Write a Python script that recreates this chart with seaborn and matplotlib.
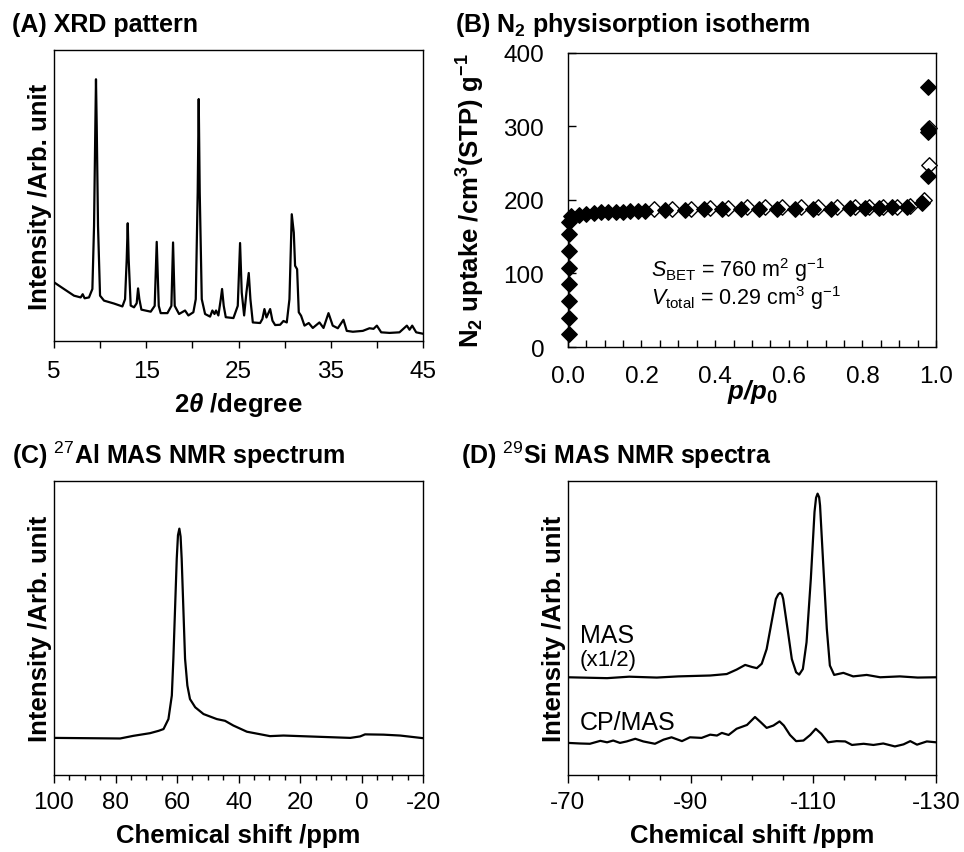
import matplotlib
matplotlib.use("Agg")
import matplotlib.pyplot as plt
from matplotlib.ticker import MultipleLocator, FixedLocator, FormatStrFormatter
import seaborn as sns

# (A) XRD pattern (intensity as fraction of axis height)
xrd_2theta = [5.00, 6.08, 7.17, 7.89, 8.11, 8.32, 8.79, 9.16, 9.34, 9.48, 9.55, 9.63, 9.77, 9.99,
              10.42, 11.50, 12.41, 12.70, 12.88, 12.99, 13.09, 13.31, 13.67, 13.96, 14.11, 14.25,
              14.47, 15.48, 15.91, 16.13, 16.35, 16.56, 17.29, 17.72, 17.90, 18.08, 18.55, 19.20,
              19.56, 20.10, 20.36, 20.57, 20.68, 20.79, 21.01, 21.37, 21.91, 22.16, 22.39, 22.56,
              22.81, 23.07, 23.21, 23.39, 23.61, 24.44, 24.91, 25.16, 25.34, 25.60, 25.85, 26.10,
              26.28, 26.54, 27.33, 27.58, 27.80, 28.02, 28.42, 28.67, 28.96, 29.50, 29.86, 30.22,
              30.51, 30.76, 30.98, 31.12, 31.34, 31.52, 31.77, 32.14, 32.60, 33.04, 33.76, 34.20,
              34.74, 35.20, 35.75, 36.36, 36.72, 37.38, 38.46, 39.18, 39.62, 39.98, 40.45, 41.35,
              42.43, 43.23, 43.52, 43.81, 44.24, 45.00]
xrd_intensity = [0.202, 0.179, 0.156, 0.150, 0.161, 0.147, 0.150, 0.179, 0.396, 0.740, 0.900, 0.740,
                 0.396, 0.156, 0.139, 0.129, 0.119, 0.144, 0.282, 0.405, 0.282, 0.122, 0.116, 0.130,
                 0.181, 0.144, 0.108, 0.101, 0.121, 0.341, 0.121, 0.096, 0.096, 0.121, 0.339, 0.121,
                 0.093, 0.105, 0.088, 0.099, 0.144, 0.511, 0.832, 0.511, 0.144, 0.093, 0.084, 0.105,
                 0.093, 0.105, 0.088, 0.144, 0.179, 0.121, 0.082, 0.079, 0.121, 0.337, 0.167, 0.088,
                 0.167, 0.234, 0.144, 0.064, 0.062, 0.076, 0.110, 0.081, 0.110, 0.070, 0.055, 0.056,
                 0.069, 0.064, 0.144, 0.436, 0.373, 0.259, 0.247, 0.099, 0.087, 0.053, 0.062, 0.045,
                 0.064, 0.045, 0.096, 0.053, 0.044, 0.073, 0.035, 0.032, 0.035, 0.044, 0.042, 0.053,
                 0.030, 0.028, 0.030, 0.053, 0.039, 0.053, 0.030, 0.025]

# (B) N2 isotherm, adsorption (filled) and desorption (open)
ads_p = [0.002, 0.002, 0.002, 0.002, 0.002, 0.002, 0.003, 0.004, 0.010, 0.030, 0.050, 0.070,
         0.090, 0.110, 0.130, 0.150, 0.170, 0.190, 0.210, 0.265, 0.318, 0.370, 0.420, 0.471,
         0.520, 0.568, 0.617, 0.665, 0.716, 0.765, 0.808, 0.845, 0.880, 0.920, 0.961, 0.979,
         0.979, 0.979, 0.979]
ads_v = [18, 40, 62, 85, 108, 131, 154, 170, 178, 180, 181, 182, 183, 183, 184, 184, 185, 185,
         185, 186, 186, 187, 187, 187, 188, 188, 188, 188, 188, 189, 189, 189, 190, 191, 196,
         233, 292, 296, 353]
des_p = [0.982, 0.982, 0.966, 0.930, 0.893, 0.855, 0.818, 0.780, 0.732, 0.680, 0.632, 0.583,
         0.535, 0.487, 0.436, 0.386, 0.334, 0.284, 0.233]
des_v = [298, 248, 200, 192, 191, 191, 191, 190, 190, 190, 190, 190, 190, 190, 189, 189, 188,
         188, 187]

# (C) 27Al MAS NMR
al_ppm = [100, 78.5, 74.2, 68.8, 66.0, 64.4, 62.8, 61.7, 61.2, 60.65, 60.1, 59.7, 59.25, 58.85,
          58.5, 57.95, 57.4, 56.65, 55.8, 54.1, 51.4, 47.1, 44.4, 41.7, 37.3, 29.8, 25.4, 14.6,
          3.7, 0.5, -1.1, -7.1, -12.5, -20]
al_int = [0.126, 0.124, 0.133, 0.142, 0.150, 0.156, 0.190, 0.270, 0.395, 0.565, 0.735, 0.815,
          0.837, 0.810, 0.735, 0.565, 0.395, 0.304, 0.258, 0.230, 0.207, 0.190, 0.184, 0.168,
          0.147, 0.132, 0.134, 0.130, 0.126, 0.131, 0.138, 0.137, 0.134, 0.125]

# (D) 29Si MAS (x1/2) and CP/MAS NMR
mas_ppm = [-70, -76.4, -80, -84.5, -88, -93.2, -95.9, -97.5, -98.9, -100.0, -100.8, -101.6, -102.4,
           -103.2, -103.9, -104.3, -104.6, -104.9, -105.1, -105.8, -106.5, -107.2, -107.7, -108.3,
           -108.9, -109.6, -110.2, -110.45, -110.7, -110.95, -111.1, -111.6, -112.2, -112.7,
           -113.4, -114.9, -116.5, -118.7, -120.9, -124.1, -127, -130]
mas_int = [0.332, 0.329, 0.334, 0.331, 0.335, 0.338, 0.343, 0.358, 0.374, 0.367, 0.363, 0.378,
           0.428, 0.519, 0.598, 0.614, 0.619, 0.613, 0.598, 0.497, 0.394, 0.349, 0.341, 0.360,
           0.451, 0.667, 0.894, 0.942, 0.956, 0.944, 0.916, 0.723, 0.497, 0.372, 0.340, 0.347,
           0.335, 0.340, 0.332, 0.335, 0.331, 0.332]
cp_ppm = [-70, -72, -73.6, -75.3, -76.4, -77.4, -78.5, -79.6, -81.0, -82.3, -84.2, -85.6, -86.9,
          -88.6, -89.9, -91.8, -93.2, -94.3, -95.1, -96.2, -97.5, -99.2, -100.5, -101.4, -102.4,
          -103.5, -104.5, -105.2, -106.2, -107.2, -108.4, -109.5, -110.4, -111.3, -112.4, -113.8,
          -115.2, -116.3, -118.2, -119.8, -121.4, -123.3, -124.7, -125.8, -126.9, -128.5, -130]
cp_int = [0.109, 0.107, 0.106, 0.116, 0.111, 0.117, 0.109, 0.114, 0.123, 0.114, 0.106, 0.120,
          0.128, 0.115, 0.128, 0.126, 0.137, 0.134, 0.143, 0.136, 0.157, 0.170, 0.197, 0.180,
          0.160, 0.168, 0.182, 0.168, 0.136, 0.115, 0.117, 0.136, 0.157, 0.140, 0.111, 0.115,
          0.114, 0.102, 0.106, 0.102, 0.107, 0.097, 0.104, 0.115, 0.103, 0.114, 0.111]

sns.set_style("ticks")
plt.rcParams['font.family'] = ['Liberation Sans', 'DejaVu Sans']
plt.rcParams['mathtext.fontset'] = 'custom'
plt.rcParams['mathtext.rm'] = 'Liberation Sans'
plt.rcParams['mathtext.it'] = 'Liberation Sans:italic'
plt.rcParams['mathtext.bf'] = 'Liberation Sans:bold'
plt.rcParams['mathtext.bfit'] = 'Liberation Sans:bold:italic'
plt.rcParams['axes.unicode_minus'] = False
plt.rcParams['axes.linewidth'] = 1.0
plt.rcParams['axes.edgecolor'] = 'black'
plt.rcParams['axes.labelcolor'] = 'black'
plt.rcParams['text.color'] = 'black'
plt.rcParams['xtick.color'] = 'black'
plt.rcParams['ytick.color'] = 'black'

TICK_FS = 17.5
LABEL_FS = 18.5
TITLE_FS = 18

fig = plt.figure(figsize=(9.64, 8.53), dpi=100)
axA = fig.add_axes([0.056, 0.599, 0.383, 0.341])
axB = fig.add_axes([0.589, 0.592, 0.382, 0.345])
axC = fig.add_axes([0.056, 0.0903, 0.383, 0.345])
axD = fig.add_axes([0.589, 0.0903, 0.382, 0.345])

for ax in (axA, axB, axC, axD):
    for s in ax.spines.values():
        s.set_visible(True)
        s.set_linewidth(1.0)

# ---- (A)
sns.lineplot(x=xrd_2theta, y=xrd_intensity, ax=axA, color='black', lw=1.6, estimator=None)
axA.set_xlim(5, 45)
axA.set_ylim(0, 1)
axA.xaxis.set_major_locator(FixedLocator([5, 15, 25, 35, 45]))
axA.xaxis.set_minor_locator(FixedLocator([10, 20, 30, 40]))
axA.tick_params(axis='x', which='both', direction='out', length=5, width=1, labelsize=TICK_FS, pad=9)
axA.set_yticks([])
axA.set_xlabel(r'2$\mathbfit{\theta}$ /degree', fontsize=LABEL_FS, fontweight='bold', va='center')
axA.xaxis.set_label_coords(0.5, -0.216)
axA.set_ylabel('Intensity /Arb. unit', fontsize=LABEL_FS, fontweight='bold', va='center')
axA.yaxis.set_label_coords(-0.038, 0.5)

# ---- (B)
sns.scatterplot(x=des_p, y=des_v, ax=axB, marker='D', s=62, color='white', edgecolor='black',
                linewidth=1.0, clip_on=False, zorder=3)
sns.scatterplot(x=ads_p, y=ads_v, ax=axB, marker='D', s=62, color='black', edgecolor='black',
                linewidth=1.0, clip_on=False, zorder=4)
axB.set_xlim(0, 1.0)
axB.set_ylim(0, 400)
axB.xaxis.set_major_locator(MultipleLocator(0.2))
axB.xaxis.set_minor_locator(MultipleLocator(0.05))
axB.xaxis.set_major_formatter(FormatStrFormatter('%.1f'))
axB.yaxis.set_major_locator(MultipleLocator(100))
axB.tick_params(axis='x', which='both', direction='in', length=5, width=1, labelsize=TICK_FS, pad=13)
axB.tick_params(axis='y', which='both', direction='in', length=6, width=1, labelsize=TICK_FS, pad=17)
axB.set_xlabel(r'$\mathbfit{p/p}_\mathbf{0}$', fontsize=LABEL_FS, fontweight='bold', va='center')
axB.xaxis.set_label_coords(0.5, -0.15)
axB.set_ylabel(r'N$_\mathbf{2}$ uptake /cm$^\mathbf{3}$(STP) g$^\mathbf{-1}$', fontsize=LABEL_FS,
               fontweight='bold', va='center')
axB.yaxis.set_label_coords(-0.264, 0.5)
axB.text(0.225, 96, r'$S_\mathrm{BET}$ = 760 m$^2$ g$^{-1}$', fontsize=15.5, va='baseline')
axB.text(0.225, 58, r'$V_\mathrm{total}$ = 0.29 cm$^3$ g$^{-1}$', fontsize=15.5, va='baseline')

# ---- (C)
sns.lineplot(x=al_ppm, y=al_int, ax=axC, color='black', lw=1.6, estimator=None, sort=False)
axC.set_xlim(100, -20)
axC.set_ylim(0, 1)
axC.xaxis.set_major_locator(MultipleLocator(20))
axC.xaxis.set_minor_locator(MultipleLocator(5))
axC.tick_params(axis='x', which='major', direction='out', length=5.5, width=1, labelsize=TICK_FS, pad=6)
axC.tick_params(axis='x', which='minor', direction='out', length=3.5, width=1)
axC.set_yticks([])
axC.set_xlabel('Chemical shift /ppm', fontsize=LABEL_FS, fontweight='bold', va='center')
axC.xaxis.set_label_coords(0.5, -0.204)
axC.set_ylabel('Intensity /Arb. unit', fontsize=LABEL_FS, fontweight='bold', va='center')
axC.yaxis.set_label_coords(-0.038, 0.5)

# ---- (D)
sns.lineplot(x=mas_ppm, y=mas_int, ax=axD, color='black', lw=1.6, estimator=None, sort=False)
sns.lineplot(x=cp_ppm, y=cp_int, ax=axD, color='black', lw=1.6, estimator=None, sort=False)
axD.set_xlim(-70, -130)
axD.set_ylim(0, 1)
axD.xaxis.set_major_locator(FixedLocator([-70, -90, -110, -130]))
axD.xaxis.set_minor_locator(MultipleLocator(5))
axD.tick_params(axis='x', which='major', direction='out', length=5.5, width=1, labelsize=TICK_FS, pad=6)
axD.tick_params(axis='x', which='minor', direction='out', length=3.5, width=1)
axD.set_yticks([])
axD.set_xlabel('Chemical shift /ppm', fontsize=LABEL_FS, fontweight='bold', va='center')
axD.xaxis.set_label_coords(0.5, -0.204)
axD.set_ylabel('Intensity /Arb. unit', fontsize=LABEL_FS, fontweight='bold', va='center')
axD.yaxis.set_label_coords(-0.038, 0.5)
axD.text(-72.0, 0.451, 'MAS', fontsize=18, va='baseline')
axD.text(-71.9, 0.374, '(x1/2)', fontsize=16, va='baseline')
axD.text(-72.0, 0.156, 'CP/MAS', fontsize=18, va='baseline')

# panel titles
fig.text(0.0124, 0.962, '(A) XRD pattern', fontsize=TITLE_FS, fontweight='bold', va='baseline')
fig.text(0.472, 0.962, r'(B) N$_\mathbf{2}$ physisorption isotherm', fontsize=TITLE_FS,
         fontweight='bold', va='baseline')
fig.text(0.0124, 0.456, r'(C) $^{27}$Al MAS NMR spectrum', fontsize=TITLE_FS, fontweight='bold',
         va='baseline')
fig.text(0.478, 0.456, r'(D) $^{29}$Si MAS NMR spectra', fontsize=TITLE_FS, fontweight='bold',
         va='baseline')

fig.savefig('out.png', dpi=100)
